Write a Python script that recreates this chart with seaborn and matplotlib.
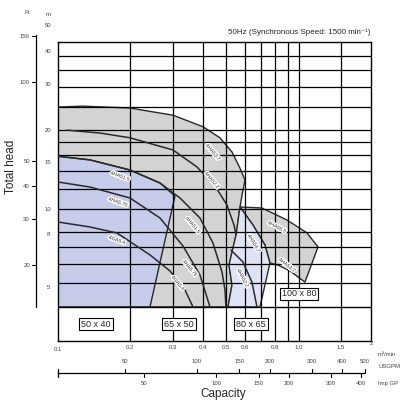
import matplotlib
matplotlib.use("Agg")
import matplotlib.pyplot as plt
import matplotlib.transforms as mtransforms
import matplotlib.patheffects as pe
import seaborn as sns

sns.set_theme(style="white")
plt.rcParams['font.family'] = ['Liberation Sans', 'DejaVu Sans']

# ---- data: capacity (m3/min), total head (m) ----
# 65 x 50 operating range (gray)
r6550_q = [0.1, 0.126, 0.199, 0.301, 0.401, 0.471, 0.529, 0.571, 0.599, 0.582, 0.571, 0.55, 0.514, 0.529, 0.509, 0.1]
r6550_h = [24.5, 24.7, 24.3, 22.8, 20.6, 18.7, 16.5, 14.3, 12.9, 11.3, 10.18, 7.96, 6.11, 5.13, 4.23, 4.23]
# 50 x 40 range (blue)
r5040_q = [0.1, 0.1358, 0.1992, 0.2654, 0.3064, 0.2412, 0.1]
r5040_h = [15.9, 15.4, 14.09, 12.57, 11.21, 4.23, 4.23]
# 100 x 80 range (gray)
r10080_q = [0.5706, 0.7044, 0.8951, 1.085, 1.204, 1.063, 0.9212, 0.821, 0.7604, 0.7248, 0.6461]
r10080_h = [10.18, 10.09, 9.08, 8.1, 7.16, 5.26, 5.80, 6.11, 6.22, 7.29, 8.69]
# 80 x 65 range (light blue)
r8065_q = [0.5706, 0.6461, 0.7248, 0.7604, 0.7248, 0.691, 0.5088, 0.5287, 0.5136, 0.5495]
r8065_h = [10.18, 8.69, 7.29, 6.22, 5.13, 4.23, 4.23, 5.13, 6.11, 7.96]

# pump curves
a1_q = [0.1, 0.1358, 0.1992, 0.2654, 0.3214, 0.3892, 0.4407, 0.4804, 0.4944, 0.499]
a1_h = [15.9, 15.4, 14.09, 12.57, 11.02, 9.24, 7.42, 5.75, 4.91, 4.23]
a2_q = [0.1, 0.1358, 0.1992, 0.2654, 0.3306, 0.3892, 0.4282]
a2_h = [12.68, 12.13, 11.02, 9.24, 7.23, 5.6, 4.23]
a3_q = [0.1, 0.1358, 0.1759, 0.2412, 0.2921, 0.3371, 0.3639]
a3_h = [8.92, 8.54, 8.1, 6.68, 5.80, 4.91, 4.23]
b2_q = [0.109, 0.1495, 0.1992, 0.3006, 0.3782, 0.4493, 0.504, 0.5389, 0.5495]
b2_h = [20.0, 19.5, 18.7, 16.8, 14.47, 12.24, 10.36, 8.69, 7.96]
e2_q = [0.5236, 0.5872, 0.640, 0.6716]
e2_h = [6.97, 6.28, 5.26, 4.23]

curve_labels = [
    ("4HA53.7", 0.4407, 16.5, -50), ("4HA52.2", 0.4365, 12.9, -50),
    ("4HA51.5", 0.181, 13.36, -20), ("4HA5.75", 0.1776, 10.63, -20),
    ("4GA5.4", 0.1759, 7.62, -20), ("4HA51.5", 0.3639, 8.69, -50),
    ("4HA5.75", 0.3537, 5.95, -50), ("4GA5.4", 0.3153, 5.22, -50),
    ("4HA53.7", 0.6525, 7.41, -58), ("4HA52.2", 0.5872, 5.45, -62),
    ("4HA55.5", 0.8131, 8.54, -28), ("4HA53.7", 0.8951, 6.11, -38),
]
size_labels = [("50 x 40", 0.1439, 3.64), ("65 x 50", 0.3186, 3.64),
               ("80 x 65", 0.6338, 3.64), ("100 x 80", 1.004, 4.74)]

x_grid = [0.2, 0.3, 0.4, 0.5, 0.6, 0.7, 0.8, 0.9, 1.0, 1.5]
y_grid = [38.4, 33.9, 29.2, 24.5, 20.0, 18.0, 16.1, 14.0, 11.9, 10.0, 8.17, 7.16, 6.17, 5.22]
floor_h = 4.23
m3_ticks = [0.1, 0.2, 0.3, 0.4, 0.5, 0.6, 0.8, 1.0, 1.5, 2]
m3_labels = ["0.1", "0.2", "0.3", "0.4", "0.5", "0.6", "0.8", "1.0", "1.5", "2"]
usgpm = [50, 100, 150, 200, 300, 400, 500]
impgp = [50, 100, 150, 200, 300, 400]
m_ticks = [50, 40, 30, 20, 15, 10, 8, 5]
ft_ticks = [150, 100, 50, 40, 30, 20]

gray = "#d3d3d3"
blue = "#c6cce9"
lblue = "#dfe3f3"
ink = "#2a2a2a"

fig = plt.figure(figsize=(4.15, 4.09), dpi=100)
ax = fig.add_axes([58 / 415, 68 / 409, 313 / 415, 299 / 409])
ax.set_xscale("log")
ax.set_yscale("log")
ax.set_xlim(0.1, 2)
ax.set_ylim(3.135, 43.4)
ax.set_xticks([])
ax.set_yticks([])
ax.minorticks_off()
ax.tick_params(which="both", length=0, labelbottom=False, labelleft=False)
for s in ax.spines.values():
    s.set_color("black")
    s.set_linewidth(1.0)

# regions
ax.fill(r6550_q, r6550_h, color=gray, ec=ink, lw=1.0, zorder=1)
ax.fill(r5040_q, r5040_h, color=blue, ec=ink, lw=1.0, zorder=1.2)
ax.fill(r10080_q, r10080_h, color=gray, ec=ink, lw=1.0, zorder=1)
ax.fill(r8065_q, r8065_h, color=lblue, ec=ink, lw=1.0, zorder=1.2)

# grid
for v in x_grid:
    ax.axvline(v, color="black", lw=0.9, zorder=2)
for v in y_grid:
    ax.plot([0.1, 2], [v, v], color="black", lw=0.9, zorder=2)
ax.plot([0.1, 2], [floor_h, floor_h], color="black", lw=1.0, zorder=2)

# curves
for q, h in [(a1_q, a1_h), (a2_q, a2_h), (a3_q, a3_h), (b2_q, b2_h), (e2_q, e2_h)]:
    sns.lineplot(x=q, y=h, sort=False, estimator=None, color=ink, lw=1.1, ax=ax, zorder=3)

halo = [pe.withStroke(linewidth=2.0, foreground="white")]
for t, q, h, r in curve_labels:
    ax.text(q, h, t, rotation=r, fontsize=3.7, color="#333333", ha="center", va="center",
            path_effects=halo, zorder=4)

for t, q, h in size_labels:
    ax.text(q, h, t, fontsize=6.5, ha="center", va="center", zorder=5,
            bbox=dict(boxstyle="square,pad=0.2", fc="white", ec="black", lw=0.8))

# capacity scales below the chart
tx = mtransforms.blended_transform_factory(ax.transData, ax.transAxes)
for v, lab in zip(m3_ticks, m3_labels):
    yy = -0.030 if lab == "0.1" else (-0.010 if lab == "2" else -0.0234)
    ax.text(v, yy, lab, transform=tx, fontsize=4.3, color="#444444", ha="center", va="center")

line_y = -0.107
ax.plot([0.1, 1.87], [line_y, line_y], transform=tx, color="black", lw=0.9, clip_on=False)
ax.plot([0.1, 0.1], [line_y + 0.014, line_y - 0.014], transform=tx, color="black", lw=0.9, clip_on=False)
for g in usgpm:
    q = g * 0.0037854
    ax.plot([q, q], [line_y, line_y + 0.013], transform=tx, color="black", lw=0.8, clip_on=False)
    ax.text(q, -0.0669, str(g), transform=tx, fontsize=4.3, color="#444444", ha="center", va="center")
for g in impgp:
    q = g * 0.0045461
    ax.plot([q, q], [line_y, line_y - 0.013], transform=tx, color="black", lw=0.8, clip_on=False)
    ax.text(q, -0.1405, str(g), transform=tx, fontsize=4.3, color="#444444", ha="center", va="center")

# head scales left of the chart
ty = mtransforms.blended_transform_factory(ax.transAxes, ax.transData)
ax.plot([-0.0703, -0.0703], [46.1, floor_h], transform=ty, color="black", lw=0.9, clip_on=False)
for f in ft_ticks:
    h = f * 0.3048
    ax.plot([-0.0703, -0.083], [h, h], transform=ty, color="black", lw=0.8, clip_on=False)
    ax.text(-0.0895, h, str(f), transform=ty, fontsize=4.3, color="#444444", ha="right", va="center")
for m in m_ticks:
    ax.text(-0.032, m, str(m), transform=ty, fontsize=4.3, color="#444444", ha="center", va="center")

fig.text(27 / 415, 1 - 13 / 409, "Ft", fontsize=4.5, color="#444444", ha="center", va="center")
fig.text(48 / 415, 1 - 14 / 409, "m", fontsize=4.5, color="#444444", ha="center", va="center")
fig.text(11 / 415, 1 - 167 / 409, "Total head", rotation=90, fontsize=8.5, ha="center", va="center")
fig.text(223 / 415, 1 - 394 / 409, "Capacity", fontsize=8.5, ha="center", va="center")
fig.text(370 / 415, 1 - 32 / 409, "50Hz (Synchronous Speed: 1500 min\u207b\u00b9)", fontsize=5.8,
         ha="right", va="center")
fig.text(378 / 415, 1 - 355 / 409, "m\u00b3/min", fontsize=4.3, color="#444444", ha="left", va="center")
fig.text(378 / 415, 1 - 366 / 409, "USGPM", fontsize=4.3, color="#444444", ha="left", va="center")
fig.text(378 / 415, 1 - 383 / 409, "Imp GP", fontsize=4.3, color="#444444", ha="left", va="center")

fig.savefig("out.png", dpi=100)
